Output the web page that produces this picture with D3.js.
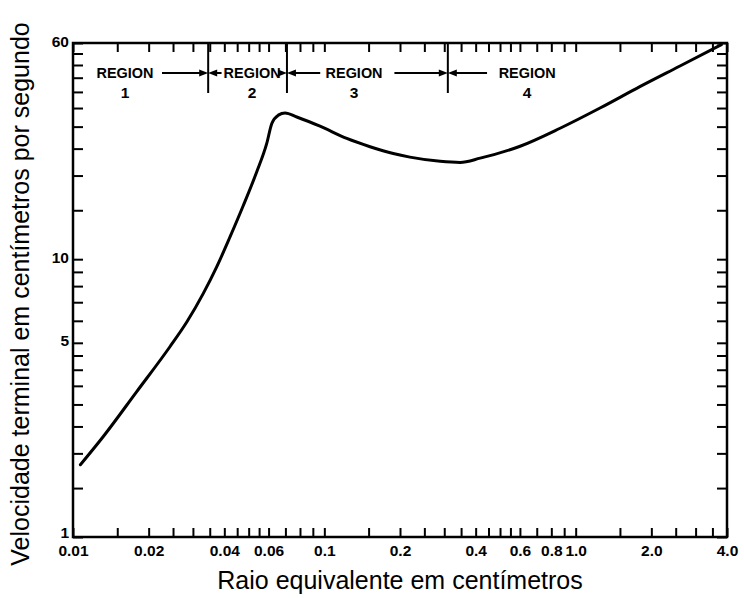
<!DOCTYPE html>
<html>
<head>
<meta charset="utf-8">
<script src="https://cdn.jsdelivr.net/npm/d3@7"></script>
<style>
  body { margin: 0; background: #fff; }
  svg { display: block; }
  .tick line { stroke: #000; stroke-width: 2; }
  .tick text { font-family: "Liberation Sans", Arial, sans-serif; font-weight: bold; font-size: 15.5px; fill: #000; }
  .region { font-family: "Liberation Sans", Arial, sans-serif; font-weight: bold; font-size: 15.5px; }
  .title { font-family: "Liberation Sans", Arial, sans-serif; font-size: 25px; fill: #000; }
</style>
</head>
<body>
<svg id="chart" width="744" height="598"></svg>
<script>
// terminal velocity of a rising bubble vs equivalent radius
const radiusCm = [0.0107, 0.0132, 0.0179, 0.0243, 0.0284, 0.033, 0.0373, 0.0421, 0.0476,
                  0.0538, 0.059, 0.0618, 0.0656, 0.0698, 0.0777, 0.0961, 0.1228, 0.152,
                  0.188, 0.219, 0.289, 0.347, 0.417, 0.601, 0.867, 1.25, 1.80, 2.60, 3.80];
const velocityCms = [1.82, 2.30, 3.33, 4.84, 5.95, 7.53, 9.38, 12.0, 15.6,
                     20.6, 26.1, 30.8, 33.0, 33.6, 32.5, 30.1, 27.2, 25.4,
                     24.0, 23.3, 22.5, 22.3, 23.1, 25.5, 29.6, 35.0, 41.8, 49.6, 59.2];

// axis ticks
const xTicks = [0.01, 0.015, 0.02, 0.025, 0.03, 0.035, 0.04, 0.045, 0.05, 0.055, 0.06, 0.07, 0.08, 0.09,
                0.1, 0.15, 0.2, 0.25, 0.3, 0.35, 0.4, 0.45, 0.5, 0.55, 0.6, 0.7, 0.8, 0.9,
                1.0, 1.5, 2.0, 2.5, 3.0, 3.5, 4.0];
const xLabelVals = [0.01, 0.02, 0.04, 0.06, 0.1, 0.2, 0.4, 0.6, 0.8, 1.0, 2.0, 4.0];
const xLabelText = ["0.01", "0.02", "0.04", "0.06", "0.1", "0.2", "0.4", "0.6", "0.8", "1.0", "2.0", "4.0"];
const yTicks = [1, 1.5, 2, 2.5, 3, 3.5, 4, 4.5, 5, 6, 7, 8, 9, 10,
                15, 20, 25, 30, 35, 40, 45, 50, 55, 60];
const yLabelVals = [1, 5, 10, 60];
const yLabelText = ["1", "5", "10", "60"];

// regions along the top
const regionBounds = [0.0345, 0.071, 0.31];
const regionCenters = [0.0161, 0.0516, 0.1313, 0.641];
const regionNums = ["1", "2", "3", "4"];

const xTitle = "Raio equivalente em centímetros";
const yTitle = "Velocidade terminal em centímetros por segundo";

const svg = d3.select("#chart");
const margin = {top: 43, right: 17, bottom: 61, left: 73};
const W = 744 - margin.left - margin.right;
const H = 598 - margin.top - margin.bottom;
const g = svg.append("g").attr("transform", `translate(${margin.left},${margin.top})`);

const x = d3.scaleLog().domain([0.01, 4.0]).range([0, W]);
const y = d3.scaleLog().domain([1, 60]).range([H, 0]);

const xLab = new Map(xLabelVals.map((v, i) => [v, xLabelText[i]]));
const yLab = new Map(yLabelVals.map((v, i) => [v, yLabelText[i]]));

// bottom axis (labels), ticks pointing inward
g.append("g").attr("transform", `translate(0,${H})`)
  .call(d3.axisBottom(x).tickValues(xTicks).tickSizeInner(-9).tickSizeOuter(0).tickPadding(8)
        .tickFormat(d => xLab.get(d) || ""))
  .call(a => a.select(".domain").remove());
// top axis
g.append("g")
  .call(d3.axisTop(x).tickValues(xTicks).tickSizeInner(-9).tickSizeOuter(0).tickFormat(""))
  .call(a => a.select(".domain").remove());
// left
g.append("g")
  .call(d3.axisLeft(y).tickValues(yTicks).tickSizeInner(-10).tickSizeOuter(0).tickPadding(4)
        .tickFormat(d => yLab.get(d) || ""))
  .call(a => a.select(".domain").remove())
  .call(a => a.selectAll("text").attr("dy", d => d === 1 ? "0.02em" : "0.2em"));
// right
g.append("g").attr("transform", `translate(${W},0)`)
  .call(d3.axisRight(y).tickValues(yTicks).tickSizeInner(-10).tickSizeOuter(0).tickFormat(""))
  .call(a => a.select(".domain").remove());

g.append("rect").attr("width", W).attr("height", H)
  .attr("fill", "none").attr("stroke", "#000").attr("stroke-width", 2.5);

// curve
const pts = radiusCm.map((r, i) => [r, velocityCms[i]]);
g.append("path").datum(pts)
  .attr("fill", "none").attr("stroke", "#000").attr("stroke-width", 3)
  .attr("stroke-linejoin", "round").attr("stroke-linecap", "round")
  .attr("d", d3.line().x(d => x(d[0])).y(d => y(d[1])).curve(d3.curveMonotoneX));

// region annotations
const arrowY = 30;
regionBounds.forEach(b => {
  g.append("line").attr("x1", x(b)).attr("x2", x(b)).attr("y1", 0).attr("y2", 50)
    .attr("stroke", "#000").attr("stroke-width", 2);
});
regionCenters.forEach((c, i) => {
  g.append("text").attr("class", "region").attr("x", x(c)).attr("y", arrowY + 5)
    .attr("text-anchor", "middle").attr("textLength", 57).attr("lengthAdjust", "spacingAndGlyphs")
    .text("REGION");
  g.append("text").attr("class", "region").attr("x", x(c)).attr("y", arrowY + 25)
    .attr("text-anchor", "middle").text(regionNums[i]);
});

function arrow(from, to) {
  const x1 = x(from), x2 = x(to), dir = Math.sign(x2 - x1);
  g.append("line").attr("x1", x1).attr("x2", x2 - dir * 6).attr("y1", arrowY).attr("y2", arrowY)
    .attr("stroke", "#000").attr("stroke-width", 2);
  g.append("path")
    .attr("d", `M${x2},${arrowY}L${x2 - dir * 9},${arrowY - 3.5}L${x2 - dir * 9},${arrowY + 3.5}Z`)
    .attr("fill", "#000");
}
// arrows: [from, to] in cm
const arrowSegs = [[0.0226, 0.0345], [0.0390, 0.0345], [0.0680, 0.071], [0.0963, 0.071], [0.190, 0.31], [0.444, 0.31]];
arrowSegs.forEach(s => arrow(s[0], s[1]));

// titles
svg.append("text").attr("class", "title").attr("x", 400).attr("y", 589)
  .attr("text-anchor", "middle").text(xTitle);
svg.append("text").attr("class", "title")
  .attr("transform", "translate(29,294) rotate(-90)")
  .attr("text-anchor", "middle").text(yTitle);
</script>
</body>
</html>
